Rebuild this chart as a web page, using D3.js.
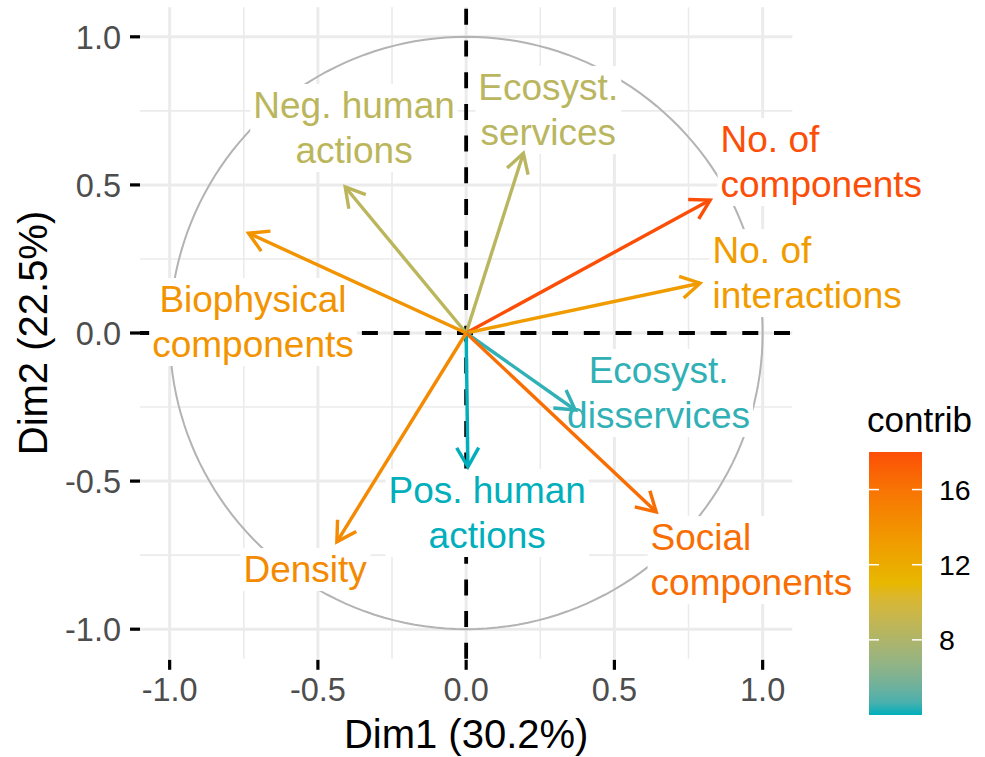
<!DOCTYPE html>
<html><head><meta charset="utf-8">
<script src="https://cdn.jsdelivr.net/npm/d3@7"></script>
<style>
body{margin:0;background:#fff}
text{font-family:"Liberation Sans",Arial,Helvetica,sans-serif}
</style>
</head><body>
<svg id="chart" width="985" height="757"></svg>
<script>
// ---------------- data ----------------
const variables = ["Neg. human actions","Ecosyst. services","Biophysical components",
  "No. of components","No. of interactions","Ecosyst. disservices",
  "Pos. human actions","Social components","Density"];
const dim1 = [-0.408, 0.193, -0.734, 0.823, 0.789, 0.368, 0.006, 0.641, -0.436];
const dim2 = [ 0.493, 0.607,  0.337, 0.449, 0.168, -0.260, -0.452, -0.604, -0.705];
const contrib = [8.6, 8.5, 13.8, 18.0, 13.2, 4.3, 4.0, 16.3, 14.5];
const labelLines = [["Neg. human","actions"],["Ecosyst.","services"],["Biophysical","components"],
  ["No. of","components"],["No. of","interactions"],["Ecosyst.","disservices"],
  ["Pos. human","actions"],["Social","components"],["Density"]];
const xTicks = [-1.0,-0.5,0.0,0.5,1.0];
const yTicks = [-1.0,-0.5,0.0,0.5,1.0];
const minorTicks = [-0.75,-0.25,0.25,0.75];
const legendTicks = [8,12,16];
const gradientColors = ["#00AFBB","#E7B800","#FC4E07"];
const xTitle = "Dim1 (30.2%)";
const yTitle = "Dim2 (22.5%)";
const legendTitle = "contrib";

// label placement (data units): anchor point of first line baseline + alignment
const labelPlace = {
  "Neg. human actions":    {x:-0.378, y:0.726, a:"middle"},
  "Ecosyst. services":     {x: 0.277, y:0.787, a:"middle"},
  "Biophysical components":{x:-0.719, y:0.071, a:"middle"},
  "No. of components":     {x: 0.858, y:0.611, a:"start"},
  "No. of interactions":   {x: 0.831, y:0.236, a:"start"},
  "Ecosyst. disservices":  {x: 0.649, y:-0.169, a:"middle"},
  "Pos. human actions":    {x: 0.071, y:-0.574, a:"middle"},
  "Social components":     {x: 0.622, y:-0.733, a:"start"},
  "Density":               {x:-0.543, y:-0.841, a:"middle"}
};

// ---------------- layout ----------------
const svg = d3.select("#chart");
const P = {l:140, r:792.3, t:7.2, b:658.8};
const x = d3.scaleLinear().domain([-1.1,1.1]).range([P.l,P.r]);
const y = d3.scaleLinear().domain([-1.1,1.1]).range([P.b,P.t]);
const cmin = d3.min(contrib), cmax = d3.max(contrib);
const color = d3.scaleLinear().domain([cmin,(cmin+cmax)/2,cmax]).range(gradientColors).interpolate(d3.interpolateLab);

const grid = svg.append("g");
minorTicks.forEach(t=>{
  grid.append("line").attr("x1",x(t)).attr("x2",x(t)).attr("y1",P.t).attr("y2",P.b).attr("stroke","#EBEBEB").attr("stroke-width",1.6);
  grid.append("line").attr("y1",y(t)).attr("y2",y(t)).attr("x1",P.l).attr("x2",P.r).attr("stroke","#EBEBEB").attr("stroke-width",1.6);
});
xTicks.forEach(t=>{
  grid.append("line").attr("x1",x(t)).attr("x2",x(t)).attr("y1",P.t).attr("y2",P.b).attr("stroke","#EBEBEB").attr("stroke-width",3);
});
yTicks.forEach(t=>{
  grid.append("line").attr("y1",y(t)).attr("y2",y(t)).attr("x1",P.l).attr("x2",P.r).attr("stroke","#EBEBEB").attr("stroke-width",3);
});

// dashed reference lines
svg.append("line").attr("x1",P.l).attr("x2",P.r).attr("y1",y(0)).attr("y2",y(0))
  .attr("stroke","#000").attr("stroke-width",3.8).attr("stroke-dasharray","16,15.7");
svg.append("line").attr("x1",x(0)).attr("x2",x(0)).attr("y1",P.b).attr("y2",P.t)
  .attr("stroke","#000").attr("stroke-width",3.8).attr("stroke-dasharray","16,15.7");

// correlation circle
const circ = d3.range(0,361,2).map(a=>[Math.cos(a*Math.PI/180),Math.sin(a*Math.PI/180)]);
svg.append("path").attr("d",d3.line().x(d=>x(d[0])).y(d=>y(d[1]))(circ))
  .attr("fill","none").attr("stroke","#B3B3B3").attr("stroke-width",2);

// label backgrounds + text
const boxG = svg.append("g");
const arrowG = svg.append("g");
const textG = svg.append("g");
const lineH = 45;
variables.forEach((v,i)=>{
  const p = labelPlace[v];
  const t = textG.append("text").attr("x",x(p.x)).attr("y",y(p.y))
    .attr("text-anchor",p.a).attr("font-size",37).attr("fill",color(contrib[i]));
  labelLines[i].forEach((ln,k)=>{
    t.append("tspan").attr("x",x(p.x)).attr("y",y(p.y)+k*lineH).text(ln);
  });
  const bb = t.node().getBBox();
  boxG.append("rect").attr("x",bb.x-3).attr("y",bb.y-1).attr("width",bb.width+6).attr("height",bb.height+2).attr("fill","#fff");
});

// arrows
const L = 22, ang = Math.PI/6;
variables.forEach((v,i)=>{
  const x0=x(0), y0=y(0), x1=x(dim1[i]), y1=y(dim2[i]);
  const th = Math.atan2(y1-y0,x1-x0);
  const c = color(contrib[i]);
  arrowG.append("line").attr("x1",x0).attr("y1",y0).attr("x2",x1).attr("y2",y1)
    .attr("stroke",c).attr("stroke-width",3.4);
  const b1=[x1-L*Math.cos(th-ang), y1-L*Math.sin(th-ang)];
  const b2=[x1-L*Math.cos(th+ang), y1-L*Math.sin(th+ang)];
  arrowG.append("path").attr("d",`M${b1[0]},${b1[1]}L${x1},${y1}L${b2[0]},${b2[1]}`)
    .attr("fill","none").attr("stroke",c).attr("stroke-width",3.4).attr("stroke-linejoin","miter");
});

// axes ticks
const fmt = d=>d.toFixed(1);
xTicks.forEach(t=>{
  svg.append("line").attr("x1",x(t)).attr("x2",x(t)).attr("y1",P.b+1).attr("y2",P.b+11).attr("stroke","#000").attr("stroke-width",3.2);
  svg.append("text").attr("x",x(t)).attr("y",701).attr("text-anchor","middle").attr("font-size",32.5).attr("fill","#4D4D4D").text(fmt(t));
});
yTicks.forEach(t=>{
  svg.append("line").attr("x1",P.l-10).attr("x2",P.l).attr("y1",y(t)).attr("y2",y(t)).attr("stroke","#000").attr("stroke-width",3.2);
  svg.append("text").attr("x",121).attr("y",y(t)).attr("dy","0.36em").attr("text-anchor","end").attr("font-size",32.5).attr("fill","#4D4D4D").text(fmt(t));
});
svg.append("text").attr("x",(P.l+P.r)/2).attr("y",748).attr("text-anchor","middle").attr("font-size",40).attr("fill","#000").text(xTitle);
svg.append("text").attr("transform",`translate(47,${(P.t+P.b)/2}) rotate(-90)`).attr("text-anchor","middle").attr("font-size",40).attr("fill","#000").text(yTitle);

// legend
const lg = {x:869, w:53, top:452, bot:715};
const ly = d3.scaleLinear().domain([cmin,cmax]).range([lg.bot,lg.top]);
const defs = svg.append("defs");
const grad = defs.append("linearGradient").attr("id","cg").attr("x1",0).attr("x2",0).attr("y1",1).attr("y2",0);
d3.range(0,1.0001,0.05).forEach(f=>{
  grad.append("stop").attr("offset",f).attr("stop-color",color(cmin+f*(cmax-cmin)));
});
svg.append("rect").attr("x",lg.x).attr("y",lg.top).attr("width",lg.w).attr("height",lg.bot-lg.top).attr("fill","url(#cg)");
legendTicks.forEach(t=>{
  svg.append("line").attr("x1",lg.x).attr("x2",lg.x+10).attr("y1",ly(t)).attr("y2",ly(t)).attr("stroke","#fff").attr("stroke-width",1.5);
  svg.append("line").attr("x1",lg.x+lg.w-10).attr("x2",lg.x+lg.w).attr("y1",ly(t)).attr("y2",ly(t)).attr("stroke","#fff").attr("stroke-width",1.5);
  svg.append("text").attr("x",939).attr("y",ly(t)).attr("dy","0.36em").attr("font-size",28.5).attr("fill","#000").text(t);
});
svg.append("text").attr("x",867).attr("y",432).attr("font-size",35).attr("fill","#000").text(legendTitle);
</script>
</body></html>
